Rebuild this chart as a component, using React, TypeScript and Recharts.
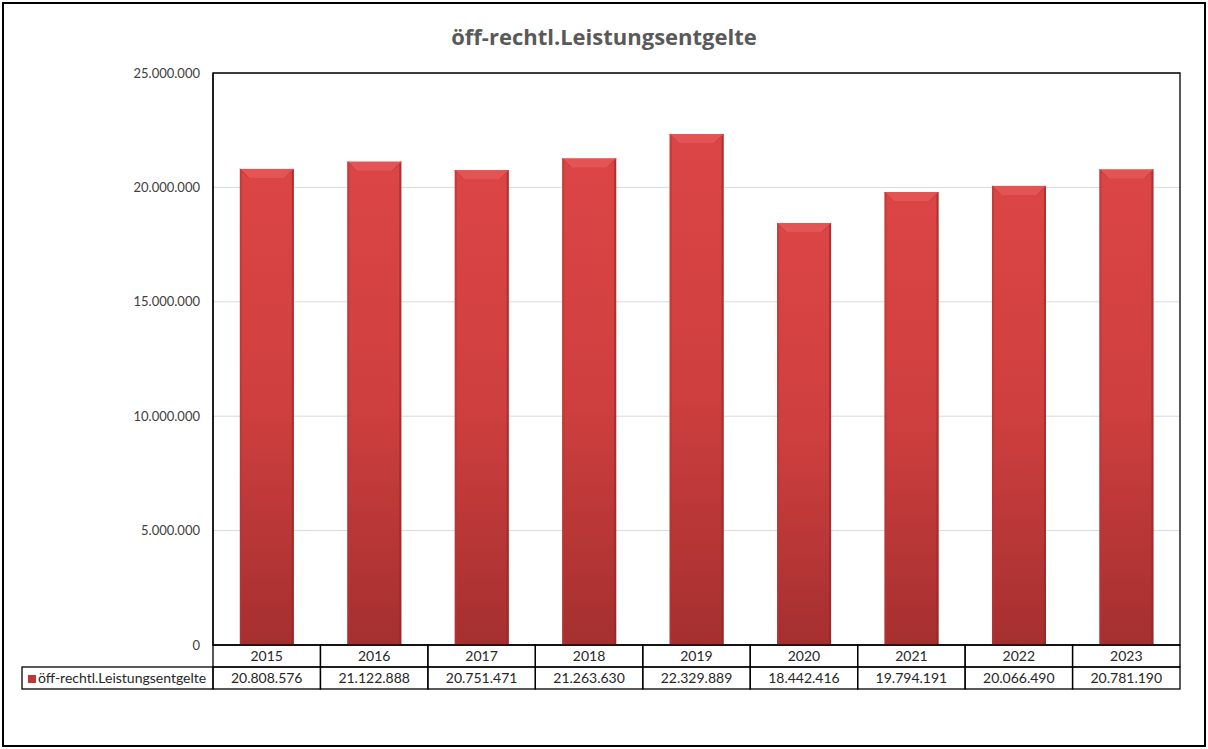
import React from 'react';
import { Bar, BarChart, CartesianGrid, ReferenceArea, XAxis, YAxis } from 'recharts';

const years = ['2015', '2016', '2017', '2018', '2019', '2020', '2021', '2022', '2023'];
const amounts = [20808576, 21122888, 20751471, 21263630, 22329889, 18442416, 19794191, 20066490, 20781190];
const yTicks = [0, 5000000, 10000000, 15000000, 20000000, 25000000];
const seriesName = 'öff-rechtl.Leistungsentgelte';

const data = years.map((year, i) => ({ year, value: amounts[i] }));

const FONT = 'Lato, "Open Sans", sans-serif';
const fmt = (n: number) => String(n).replace(/\B(?=(\d{3})+(?!\d))/g, '.');

const BevelBar = (props: any) => {
  const { x, y, width, height } = props;
  if (!height || height <= 0) return null;
  const b = 9;
  return (
    <g>
      <rect x={x} y={y} width={width} height={height} fill="url(#barGrad)" />
      <rect x={x} y={y} width={2} height={height} fill="#b53636" opacity={0.6} />
      <rect x={x + width - 2} y={y} width={2} height={height} fill="#8f2525" opacity={0.6} />
      <polygon
        points={`${x},${y} ${x + width},${y} ${x + width - b},${y + b} ${x + b},${y + b}`}
        fill="#e35555"
      />
      <line x1={x} y1={y} x2={x + b} y2={y + b} stroke="#c63c3c" strokeWidth={1} />
      <line x1={x + width} y1={y} x2={x + width - b} y2={y + b} stroke="#c63c3c" strokeWidth={1} />
    </g>
  );
};

const TableTick = (props: any) => {
  const { x, y, payload, index, width } = props;
  const cellW = width / years.length;
  const left = x - cellW / 2;
  const top = y;
  const rowH = 22;
  const legendW = 191;
  return (
    <g>
      <rect x={left} y={top} width={cellW} height={rowH} fill="none" stroke="#000" strokeWidth={1.3} />
      <rect x={left} y={top + rowH} width={cellW} height={rowH} fill="none" stroke="#000" strokeWidth={1.3} />
      <text x={x} y={top + 16} textAnchor="middle" fontSize={14} fill="#262626" fontFamily={FONT}>
        {payload.value}
      </text>
      <text x={x} y={top + rowH + 16} textAnchor="middle" fontSize={14} fill="#262626" fontFamily={FONT}>
        {fmt(amounts[index])}
      </text>
      {index === 0 && (
        <g>
          <rect x={left - legendW} y={top + rowH} width={legendW} height={rowH} fill="none" stroke="#000" strokeWidth={1.3} />
          <rect x={left - legendW + 6} y={top + rowH + 8} width={8} height={8} fill="#c23535" />
          <text x={left - legendW + 16} y={top + rowH + 16} fontSize={14} fill="#262626" fontFamily={FONT}>
            {seriesName}
          </text>
        </g>
      )}
    </g>
  );
};

export default function App() {
  return (
    <div style={{ position: 'absolute', left: 0, top: 0, width: 1208, height: 749, background: '#fff' }}>
      <div
        style={{
          position: 'absolute',
          left: 2,
          top: 2,
          width: 1200,
          height: 741,
          border: '2px solid #000',
        }}
      />
      <div
        style={{
          position: 'absolute',
          left: 0,
          top: 21,
          width: 1208,
          textAlign: 'center',
          fontFamily: '"Open Sans", sans-serif',
          fontWeight: 700,
          fontSize: 22,
          color: '#595959',
        }}
      >
        {seriesName}
      </div>
      <div style={{ position: 'absolute', left: 0, top: 0 }}>
        <BarChart
          width={1208}
          height={749}
          data={data}
          margin={{ top: 73, right: 28, bottom: 58, left: 0 }}
          barCategoryGap="25%"
        >
          <defs>
            <linearGradient id="barGrad" x1="0" y1="0" x2="0" y2="1">
              <stop offset="0%" stopColor="#dc4545" />
              <stop offset="50%" stopColor="#cf3f3f" />
              <stop offset="100%" stopColor="#a52f2f" />
            </linearGradient>
          </defs>
          <CartesianGrid vertical={false} stroke="#d9d9d9" />
          <XAxis
            dataKey="year"
            height={46}
            axisLine={false}
            tickLine={false}
            tickSize={0}
            tickMargin={0}
            interval={0}
            tick={<TableTick />}
          />
          <YAxis
            width={213}
            domain={[0, 25000000]}
            ticks={yTicks}
            tickFormatter={fmt}
            tickLine={false}
            tickMargin={7}
            axisLine={{ stroke: '#000', strokeWidth: 1.3 }}
            tick={{ fontSize: 13, fill: '#404040', fontFamily: FONT }}
          />
          <ReferenceArea y1={0} y2={25000000} fill="none" stroke="#000" strokeWidth={1.3} ifOverflow="visible" />
          <Bar dataKey="value" name={seriesName} shape={<BevelBar />} isAnimationActive={false} />
        </BarChart>
      </div>
    </div>
  );
}
